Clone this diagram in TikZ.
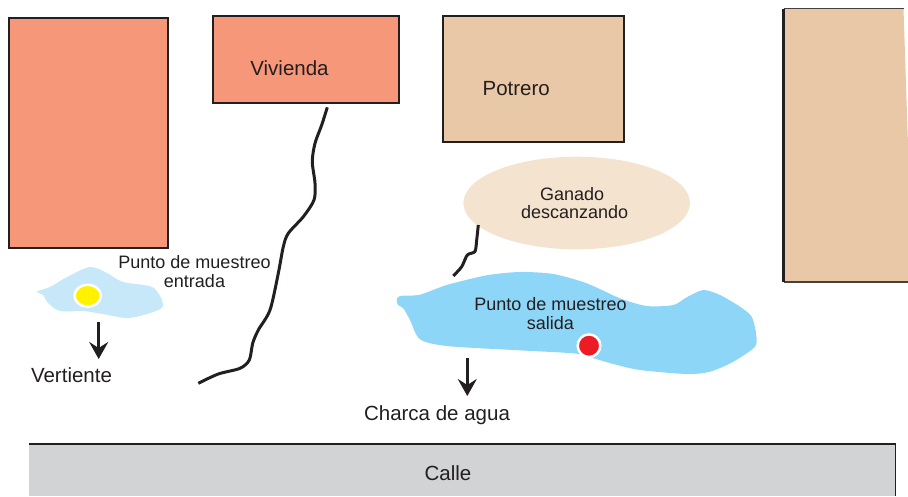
\documentclass[tikz,border=0pt]{standalone}
\usepackage{fontspec}
\setmainfont{Liberation Sans}
\usetikzlibrary{arrows.meta}
\definecolor{salmon}{HTML}{F7977A}
\definecolor{tan}{HTML}{E8C8A6}
\definecolor{restarea}{HTML}{F4E3CF}
\definecolor{lakelight}{HTML}{C6E8F9}
\definecolor{lakeblue}{HTML}{8DD6F7}
\definecolor{roadgrey}{HTML}{D1D3D4}
\definecolor{ink}{HTML}{231F20}
\definecolor{dotyellow}{HTML}{FFF200}
\definecolor{dotred}{HTML}{ED1C24}
\tikzset{
  lotbox/.style={draw=ink,line width=1.9pt,anchor=north west,inner sep=0pt,text=ink,font=\fontsize{20.4}{22}\selectfont},
  edgeline/.style={draw=ink,line width=1.7pt},
  label/.style={text=ink,font=\fontsize{20.5}{22}\selectfont,inner sep=0pt},
  smalllabel/.style={text=ink,align=center,font=\fontsize{18}{18.5}\selectfont,inner sep=0pt},
  stream/.style={draw=ink,line width=3pt,line join=round},
  flowarrow/.style={draw=ink,line width=3pt,-{Stealth[length=17pt,width=19pt,inset=6pt]}},
}
\begin{document}
\begin{tikzpicture}[x=1pt,y=-1pt]
\useasboundingbox (0,0) rectangle (908,496);
% lots
\node[lotbox,fill=salmon,minimum width=159pt,minimum height=229.5pt] (casaizq) at (7.6,17.4) {};
\node[lotbox,fill=salmon,minimum width=186.5pt,minimum height=87.5pt] (vivienda) at (211.9,14.7) {};
\node[label] (tviv) at (289.5,68.5) {Vivienda};
\node[lotbox,fill=tan,minimum width=181.5pt,minimum height=126.5pt] (potrero) at (441.9,14.7) {};
\node[label] at (516.2,88.5) (tpot) {Potrero};
% right lot
\fill[tan] (783,8.5) -- (903.5,8.5) -- (908,145) -- (908,282) -- (783,282) -- cycle;
\coordinate (rA) at (903.5,8.7);
\coordinate (rB) at (783.7,8.7);
\coordinate (rC) at (783.7,282);
\coordinate (rD) at (908,282);
\draw[draw=ink!85,line width=1.2pt] (rA) -- (rB) (rC) -- (rD);
\draw[draw=ink,line width=3pt] (rB) -- (rC);
% road
\fill[roadgrey] (29,444) rectangle (896,496);
\coordinate (cA) at (29,444);
\coordinate (cB) at (895.5,444);
\coordinate (cC) at (895.5,496);
\draw[edgeline,line join=miter] (cA) -- (cB) -- (cC);
\node[label] (tcalle) at (448,473.5) {Calle};
% rest area
\fill[restarea] (576.7,203) ellipse [x radius=113.3, y radius=46.3];
\node[smalllabel] (tganado) at (574.7,203) {Ganado\kern5pt\\descanzando};
% small spring
\fill[lakelight] plot[smooth cycle,tension=0.5] coordinates {(37,291.5)(50,287)(67,277)(90,267)(107,273)(123,282)(153,287.5)(163,306)(147,314)(127,318)(103,314)(83,311)(60,311)(48,303)(43,295)};
\draw[white,fill=dotyellow,line width=2.5pt] (87.7,295.7) ellipse [x radius=13.2, y radius=11];
\node[smalllabel] (tentrada) at (194.5,271.5) {Punto de muestreo\\entrada};
\coordinate (a1) at (98.7,322);
\coordinate (a2) at (98.7,359);
\draw[flowarrow] (a1) -- (a2);
\node[label] (tvert) at (71.5,375) {Vertiente};
% pond
\fill[lakeblue] plot[smooth cycle,tension=0.45] coordinates {(396.7,300)(400,296)(420,294.7)(446.7,285)(486.7,275.3)(520,272)(553.3,274)(586.7,283.3)(620,298.3)(646.7,306)(673.3,305)(686.7,297.3)(703.3,290)(720,295)(740,306.7)(751.7,316.7)(756,333.3)(755,346.7)(733.3,361.7)(710,371.7)(686.7,374)(640,370)(613.3,364)(588.3,356.7)(573.3,353.3)(513.3,350)(446.7,346)(420,339.3)(410,320)(403.3,308.3)(398,305)};
\draw[white,fill=dotred,line width=2.5pt] (589,345.7) circle [radius=11.3];
\node[smalllabel] (tsalida) at (550.5,313.8) {Punto de muestreo\\salida};
\coordinate (b1) at (467.3,358);
\coordinate (b2) at (467.3,396);
\draw[flowarrow] (b1) -- (b2);
\node[label] (tcharca) at (437,415.5) {Charca de agua};
% streams
\draw[stream] plot[smooth,tension=0.5] coordinates {(327.3,107.3)(321.7,125)(315,143.3)(312.3,161.7)(315,183.3)(314,200)(303.3,216.7)(288.3,233.3)(283.3,246.7)(278.3,273.3)(270,310)(258.3,330)(252.7,343.3)(249.3,360)(240,368.3)(218.3,374)(198.3,383.3)};
\draw[stream] plot[smooth,tension=0.4] coordinates {(478.3,225)(476.7,240)(475,251.5)(467.3,255)(461.7,266.7)(453.3,276)};
\end{tikzpicture}
\end{document}
